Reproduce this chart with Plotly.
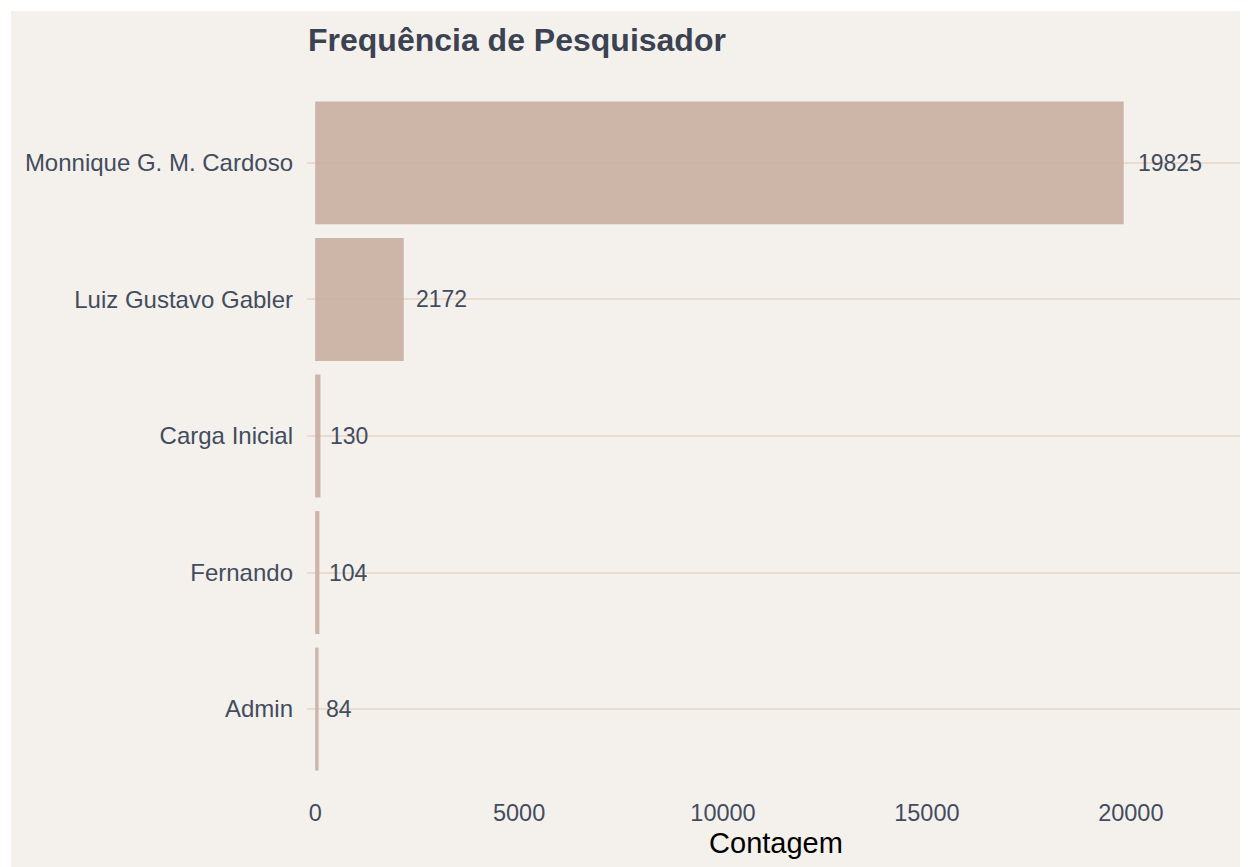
import plotly.graph_objects as go

categories = ["Monnique G. M. Cardoso", "Luiz Gustavo Gabler", "Carga Inicial", "Fernando", "Admin"]
counts = [19825, 2172, 130, 104, 84]
x_ticks = [0, 5000, 10000, 15000, 20000]

BG = "#F4F1EC"
BAR = "rgba(201,174,160,0.9)"
GRID = "#EADCCE"
TXT = "#434C5E"
FONT = "Liberation Sans, Arial, sans-serif"

# page body has an 8px margin; figure sized to fit the window
W, H = 1240, 859
L, R, T, B = 299, 3, 73, 76
pw, ph = W - L - R, H - T - B

fig = go.Figure()
fig.add_trace(go.Bar(
    x=counts, y=categories, orientation="h",
    marker=dict(color=BAR, line=dict(width=0)),
    width=0.9, hoverinfo="x+y",
))

for c, v in zip(categories, counts):
    s = str(v)
    fig.add_annotation(x=v, y=c, text=s, showarrow=False, xanchor="left", yanchor="middle",
                       xshift=0.2 * len(s) * 12.8, font=dict(size=23, color=TXT, family=FONT))

fig.add_shape(type="rect", xref="paper", yref="paper", layer="below",
              x0=(3 - L) / pw, x1=(W + 5 - L) / pw,
              y0=-(B + 5) / ph, y1=(ph + T - 3) / ph,
              fillcolor=BG, line=dict(width=0))

fig.update_layout(
    width=W, height=H,
    margin=dict(l=L, r=R, t=T, b=B, pad=0),
    paper_bgcolor="white", plot_bgcolor=BG,
    font=dict(family=FONT, color=TXT, size=23),
    title=dict(text="<b>Frequência de Pesquisador</b>", x=(L + 1) / W, xanchor="left",
               y=1 - 32 / H, yanchor="middle",
               font=dict(size=32, color="#3B4252", family=FONT)),
    showlegend=False,
    bargap=0.1,
)
fig.update_xaxes(range=[-200, 22800], tickvals=x_ticks, ticktext=[str(v) for v in x_ticks],
                 showgrid=False, zeroline=False, showline=False, ticks="",
                 ticklabelstandoff=5, tickfont=dict(size=23.5, color=TXT),
                 title=dict(text="Contagem", font=dict(size=29, color="black"), standoff=8))
fig.update_yaxes(categoryorder="array", categoryarray=categories[::-1],
                 showgrid=True, gridcolor=GRID, gridwidth=2, zeroline=False, showline=False,
                 ticks="", ticklabelstandoff=13, tickfont=dict(size=24, color=TXT),
                 range=[-0.6, 4.6])

fig.write_html("out.html")
